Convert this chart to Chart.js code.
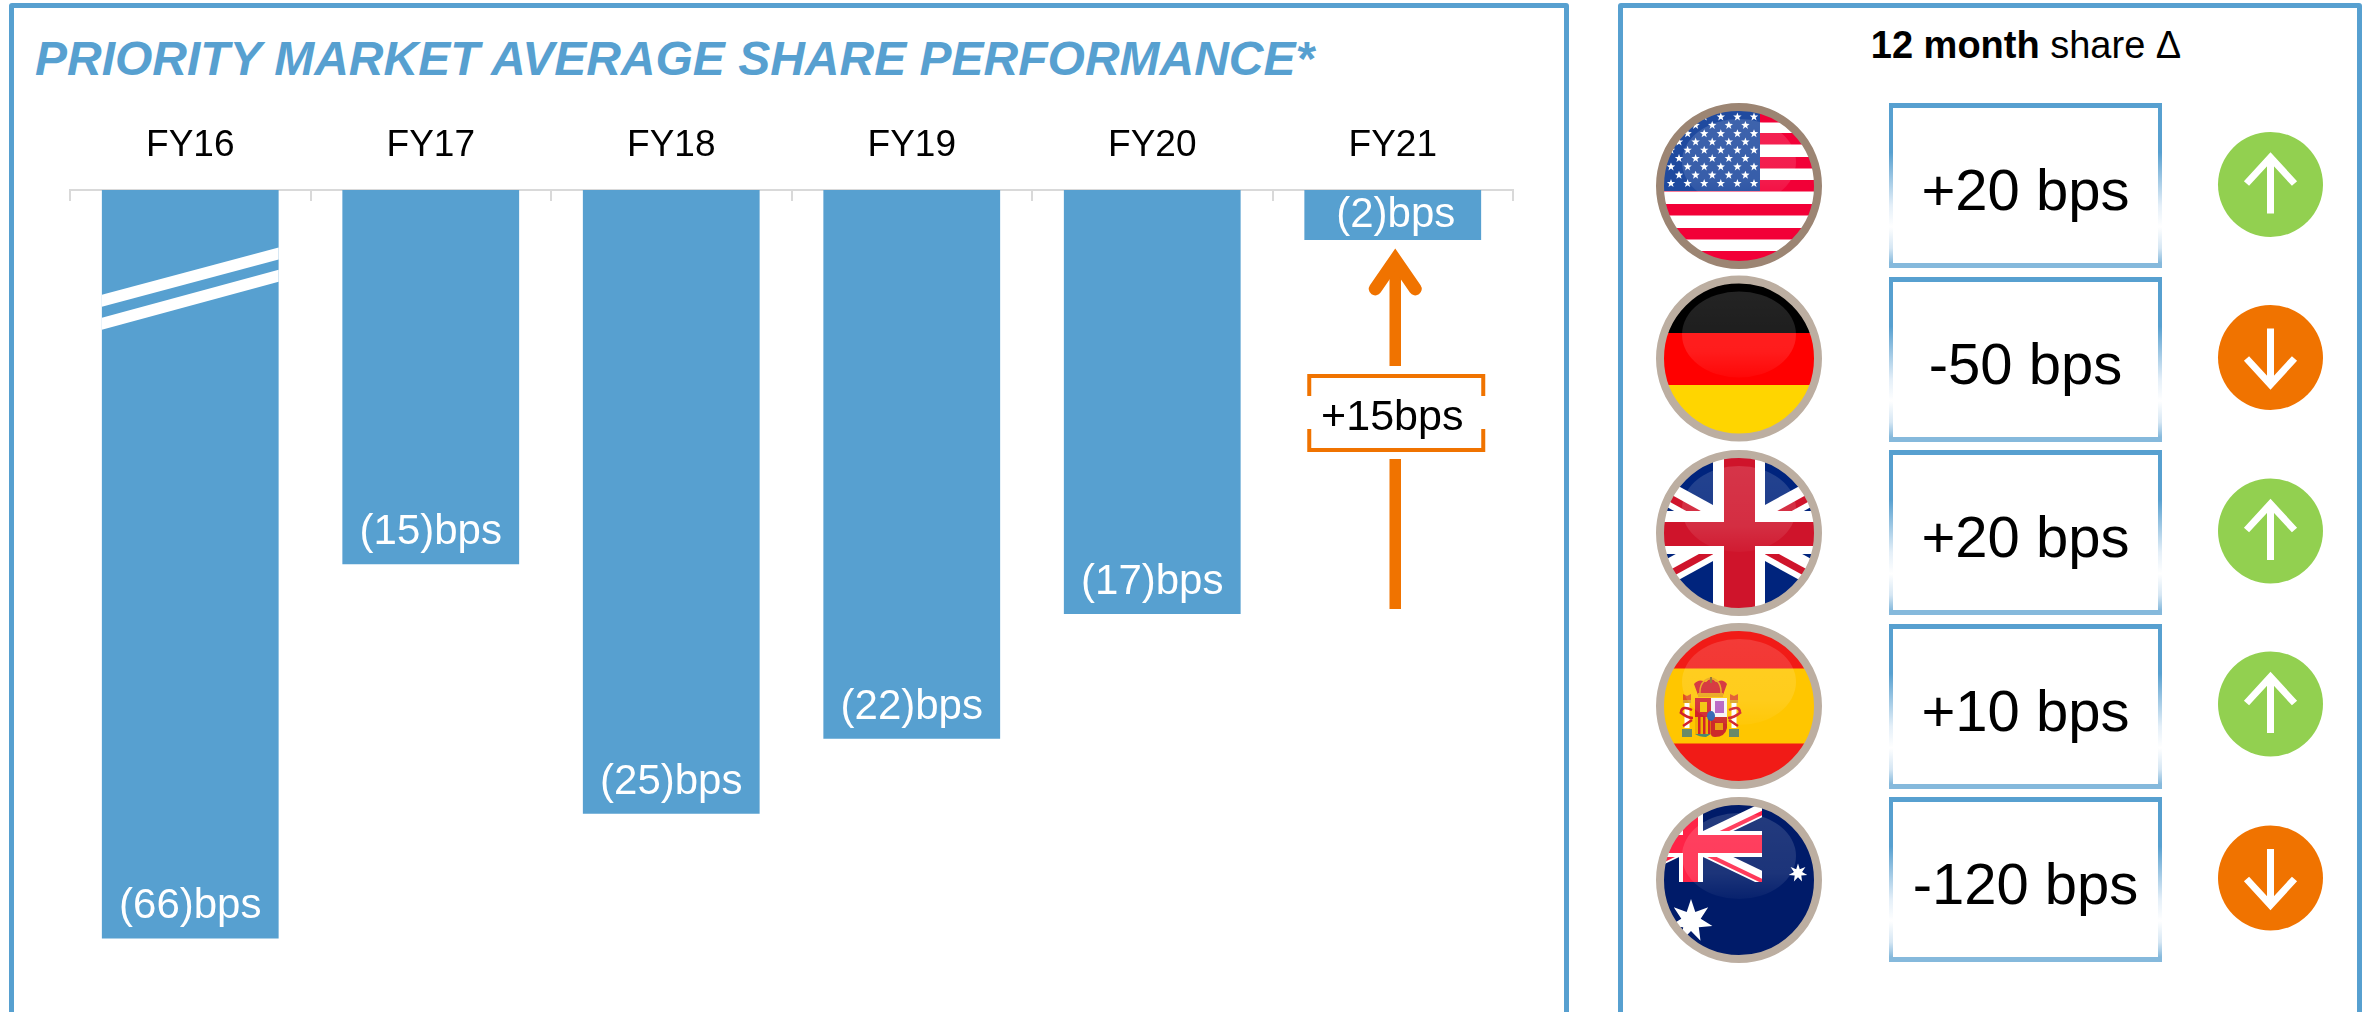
<!DOCTYPE html>
<html>
<head>
<meta charset="utf-8">
<title>Priority market average share performance</title>
<script src="https://cdn.jsdelivr.net/npm/chart.js@4/dist/chart.umd.js"></script>
<style>
  html, body { margin: 0; padding: 0; background: #fff; overflow: hidden; }
  body { width: 2363px; height: 1012px; position: relative; font-family: "Liberation Sans", Arial, sans-serif; color: #000; }
  .frame { position: absolute; top: 3px; height: 1100px; border: 5px solid #57a0d0; border-radius: 3px; box-sizing: border-box; }
  #left-frame { left: 9px; width: 1560px; }
  #right-frame { left: 1618px; width: 744px; }
  #title { position: absolute; left: 35px; top: 31px; font: italic bold 48px "Liberation Sans", Arial, sans-serif; color: #57a0d0; white-space: nowrap; }
  #chart { position: absolute; left: 0; top: 0; }
  #panel-head { position: absolute; left: 1700px; width: 652px; top: 24px; text-align: center; font-size: 38px; white-space: nowrap; }
  #icons { position: absolute; left: 0; top: 0; }
  .delta-box { position: absolute; left: 1889px; width: 273px; height: 165px; box-sizing: border-box; border-style: solid; border-width: 5px 4px 5px 4px;
    border-image: linear-gradient(#57a0d0 0%, #57a0d0 30%, #e4eff8 62%, #ffffff 75%, #d5e6f3 88%, #85b9dc 97%, #85b9dc 100%) 5 4;
    font-size: 58px; text-align: center; line-height: 163px; white-space: nowrap; }
</style>
</head>
<body>
<div class="frame" id="left-frame"></div>
<div class="frame" id="right-frame"></div>
<div id="title">PRIORITY MARKET AVERAGE SHARE PERFORMANCE*</div>
<canvas id="chart" width="1600" height="1012"></canvas>
<div id="panel-head"><b>12 month</b> share Δ</div>
<div id="panel-rows"></div>

<script>
// left chart
const fiscalYears = ['FY16', 'FY17', 'FY18', 'FY19', 'FY20', 'FY21'];
const shareBps = [-66, -15, -25, -22, -17, -2];
const brokenBarFloor = -30; // FY16 bar is cut, it stops here on the axis
const improvementBps = 15;

// right panel
const markets = ['usa', 'germany', 'uk', 'spain', 'australia'];
const marketDeltaBps = [20, -50, 20, 10, -120];

const BLUE = '#57a0d0';
const ORANGE = '#f07300';
const GREEN = '#92d050';

function formatShare(v) {
  return '(' + Math.abs(v) + ')bps';
}

// white labels near the foot of each bar, and the break marks on FY16
const barDecor = {
  id: 'barDecor',
  afterDatasetsDraw(chart) {
    const { ctx } = chart;
    const bars = chart.getDatasetMeta(0).data;
    const y = chart.scales.y;

    const first = bars[0];
    const half = first.width / 2;
    ctx.save();
    ctx.fillStyle = '#fff';
    // two slanted stripes, given in axis units
    [[-4.2, -2.3], [-5.12, -3.2]].forEach(([atLeft, atRight]) => {
      const l = y.getPixelForValue(atLeft);
      const r = y.getPixelForValue(atRight);
      ctx.beginPath();
      ctx.moveTo(first.x - half, l);
      ctx.lineTo(first.x + half, r);
      ctx.lineTo(first.x + half, r + 12);
      ctx.lineTo(first.x - half, l + 12);
      ctx.closePath();
      ctx.fill();
    });

    ctx.font = '42px "Liberation Sans", Arial, sans-serif';
    ctx.textAlign = 'center';
    ctx.textBaseline = 'middle';
    bars.forEach((bar, i) => {
      const h = Math.abs(bar.base - bar.y);
      const up = Math.min(31.5, h / 2);
      // FY21 sits a touch right of its bar centre in the picture
      ctx.fillText(formatShare(shareBps[i]), bar.x + (i === 5 ? 3 : 0), bar.y - up);
    });
    ctx.restore();
  },
};

// arrow from the FY20 level up to FY21, with the bracketed label
const improvementArrow = {
  id: 'improvementArrow',
  afterDatasetsDraw(chart) {
    const { ctx } = chart;
    const last = chart.getDatasetMeta(0).data[5];
    const y = chart.scales.y;
    const x = last.x + 2.5;
    const bottom = y.getPixelForValue(shareBps[5] - improvementBps) - 5;
    const tip = y.getPixelForValue(shareBps[5]) + 10;

    ctx.save();
    ctx.strokeStyle = ORANGE;
    ctx.fillStyle = ORANGE;
    ctx.lineWidth = 11.5;
    ctx.beginPath();
    ctx.moveTo(x, tip + 20);
    ctx.lineTo(x, 366);
    ctx.moveTo(x, 459);
    ctx.lineTo(x, bottom);
    ctx.stroke();

    // head
    ctx.lineWidth = 13;
    ctx.lineCap = 'round';
    ctx.lineJoin = 'miter';
    ctx.beginPath();
    ctx.moveTo(x - 20, tip + 39);
    ctx.lineTo(x, tip + 10);
    ctx.lineTo(x + 20, tip + 39);
    ctx.stroke();

    // bracket
    const bl = x - 86, br = x + 88, bt = 376, bb = 450;
    ctx.lineWidth = 4;
    ctx.lineCap = 'butt';
    ctx.beginPath();
    ctx.moveTo(bl, 396); ctx.lineTo(bl, bt); ctx.lineTo(br, bt); ctx.lineTo(br, 396);
    ctx.moveTo(bl, 429); ctx.lineTo(bl, bb); ctx.lineTo(br, bb); ctx.lineTo(br, 429);
    ctx.stroke();

    ctx.fillStyle = '#000';
    ctx.font = '43px "Liberation Sans", Arial, sans-serif';
    ctx.textAlign = 'center';
    ctx.textBaseline = 'middle';
    ctx.fillText('+' + improvementBps + 'bps', x - 3, 418);
    ctx.restore();
  },
};

new Chart(document.getElementById('chart'), {
  type: 'bar',
  data: {
    labels: fiscalYears,
    datasets: [{
      data: shareBps.map((v) => Math.max(v, brokenBarFloor)),
      backgroundColor: BLUE,
      barPercentage: 0.735,
      categoryPercentage: 1,
    }],
  },
  options: {
    responsive: false,
    animation: false,
    layout: { padding: { left: 70, right: 87, top: 0, bottom: 0 } },
    plugins: { legend: { display: false }, tooltip: { enabled: false } },
    scales: {
      x: {
        position: 'top',
        afterFit(scale) { scale.height = 190; },
        border: { color: '#d9d9d9', width: 2 },
        grid: { color: '#d9d9d9', lineWidth: 2, drawOnChartArea: false, tickLength: -11 },
        ticks: { color: '#000', padding: 33, maxRotation: 0, font: { size: 37, family: '"Liberation Sans", Arial, sans-serif' } },
      },
      y: { display: false, min: -32.95, max: 0 },
    },
  },
  plugins: [barDecor, improvementArrow],
});

// ---- right panel ----
const rowBoxTop = [103, 277, 450, 624, 797];
const flagCentre = [186, 358.5, 533, 706, 880];
const signCentre = [184.5, 357.5, 531, 704, 878];

function star(cx, cy, R, r, n) {
  let pts = [];
  for (let i = 0; i < n * 2; i++) {
    const a = -Math.PI / 2 + (i * Math.PI) / n;
    const d = i % 2 ? r : R;
    pts.push((cx + d * Math.cos(a)).toFixed(1) + ',' + (cy + d * Math.sin(a)).toFixed(1));
  }
  return `<polygon points="${pts.join(' ')}" fill="#fff"/>`;
}

function unionJack(cx, cy, halfW, halfH, white, red, whiteDiag, redDiag) {
  const dx = 130, dy = dx * (halfH / halfW);
  return `
    <line x1="${cx - dx}" y1="${cy - dy}" x2="${cx + dx}" y2="${cy + dy}" stroke="#fff" stroke-width="${whiteDiag}"/>
    <line x1="${cx - dx}" y1="${cy + dy}" x2="${cx + dx}" y2="${cy - dy}" stroke="#fff" stroke-width="${whiteDiag}"/>
    <line x1="${cx - dx}" y1="${cy - dy + 3}" x2="${cx + dx}" y2="${cy + dy + 3}" stroke="${red}" stroke-width="${redDiag}"/>
    <line x1="${cx - dx}" y1="${cy + dy + 3}" x2="${cx + dx}" y2="${cy - dy + 3}" stroke="${red}" stroke-width="${redDiag}"/>`;
}

const flagArt = {
  usa() {
    let s = '<rect x="-90" y="-90" width="180" height="180" fill="#fff"/>';
    [-75, -53, -29, -6, 18, 42, 65].forEach((t) => {
      s += `<rect x="-90" y="${t}" width="180" height="11.5" fill="#f20037"/>`;
    });
    s += '<rect x="-90" y="-90" width="111" height="95" fill="#1f4a9f"/>';
    for (let row = 0; row < 9; row++) {
      const odd = row % 2 === 1;
      for (let c = 0; c < 6; c++) {
        const x = (odd ? -60 : -68) + c * 16.6;
        if (odd && c === 5) continue;
        s += star(x, -69 + row * 8.3, 4.4, 1.8, 5);
      }
    }
    return s;
  },
  germany() {
    return `<rect x="-90" y="-90" width="180" height="65" fill="#000"/>
      <rect x="-90" y="-25.5" width="180" height="52" fill="#ff0000"/>
      <rect x="-90" y="26.5" width="180" height="65" fill="#ffd500"/>`;
  },
  uk() {
    return `<rect x="-90" y="-90" width="180" height="180" fill="#00247d"/>
      ${unionJack(0, 0, 100, 55, '#fff', '#cf142b', 24, 7)}
      <rect x="-26" y="-90" width="52" height="180" fill="#fff"/>
      <rect x="-90" y="-22" width="180" height="43" fill="#fff"/>
      <rect x="-15" y="-90" width="31" height="180" fill="#cf142b"/>
      <rect x="-90" y="-11" width="180" height="24" fill="#cf142b"/>`;
  },
  spain() {
    // small coat of arms
    let crest = `
      <rect x="-44" y="-8" width="16" height="19" fill="#d2222a"/>
      <rect x="-39" y="-4" width="7" height="10" fill="#f2c200"/>
      <rect x="-28" y="-8" width="16" height="19" fill="#f6f3f4"/>
      <rect x="-24" y="-5" width="9" height="12" fill="#b45cc0"/>
      <rect x="-44" y="11" width="16" height="17" fill="#f0b000"/>
      <rect x="-41" y="11" width="2.5" height="17" fill="#d2222a"/>
      <rect x="-36" y="11" width="2.5" height="17" fill="#d2222a"/>
      <rect x="-31" y="11" width="2.5" height="17" fill="#d2222a"/>
      <path d="M-28 11 H-12 V22 Q-14 31 -24 31 Q-28 31 -28 28 Z" fill="#cc2a2a"/>
      <rect x="-24" y="17" width="8" height="7" fill="#e8a010"/>
      <path d="M-44 28 Q-40 31 -33 31 L-28 28 Z" fill="#4a8a70"/>
      <ellipse cx="-28" cy="10" rx="4" ry="5" fill="#2d62b0"/>
      <path d="M-41 -11 L-45 -22 Q-40 -28 -33 -24 Q-28 -30 -23 -24 Q-16 -28 -12 -22 L-16 -11 Z" fill="#d2222a"/>
      <path d="M-28 -28 Q-40 -26 -39 -11 M-28 -28 Q-17 -26 -18 -11" fill="none" stroke="#e8a010" stroke-width="1.5"/>
      <rect x="-41" y="-13" width="25" height="4" fill="#e8a010"/>
      <rect x="-29" y="-29" width="2" height="6" fill="#8a6a20"/>`;
    [-52, -5].forEach((x, k) => {
      const flip = k === 0 ? -1 : 1;
      crest += `<rect x="${x - 2.5}" y="-3" width="5" height="25" fill="#fff"/>
        <path d="M${x - 4} -6 L${x - 4} -12 L${x} -10 L${x + 4} -12 L${x + 4} -6 Z" fill="#e05020"/>
        <rect x="${x - 4}" y="-6" width="8" height="3" fill="#d8a020"/>
        <rect x="${x - 5}" y="23" width="10" height="8" fill="#6a8a68"/>
        <path d="M${x - flip * 5} 4 Q${x + flip * 5} -1 ${x + flip * 6} 6" fill="none" stroke="#d2222a" stroke-width="2.5"/>
        <path d="M${x - flip * 6} 12 Q${x} 12 ${x + flip * 7} 6 M${x - flip * 5} 14 L${x + flip * 4} 20" fill="none" stroke="#d2222a" stroke-width="2.5"/>`;
    });
    return `<rect x="-90" y="-90" width="180" height="180" fill="#f11b17"/>
      <rect x="-90" y="-37.5" width="180" height="75" fill="#ffc600"/>${crest}`;
  },
  australia() {
    return `<rect x="-90" y="-90" width="180" height="180" fill="#001b69"/>
      <g clip-path="url(#canton-clip)">
        <rect x="-90" y="-90" width="113" height="92" fill="#001b69"/>
        ${unionJack(-48, -36, 75, 36, '#fff', '#ff2347', 13, 4)}
        <rect x="-60" y="-90" width="24" height="92" fill="#fff"/>
        <rect x="-90" y="-49" width="113" height="26" fill="#fff"/>
        <rect x="-56" y="-90" width="15" height="92" fill="#ff2347"/>
        <rect x="-90" y="-45" width="113" height="18" fill="#ff2347"/>
      </g>
      ${star(-48, 41, 22, 10, 7)}
      ${star(59, -7, 9.5, 4.2, 7)}`;
  },
};

function flagIcon(name, cy, i) {
  const rim = name === 'usa' ? '#9c8573' : '#bcaea1';
  return `<g transform="translate(1739 ${cy})">
    <g clip-path="url(#flag-clip)">${flagArt[name]()}
      <ellipse cx="0" cy="-24" rx="57" ry="43" fill="url(#gloss)"/>
    </g>
    <circle r="79" fill="none" stroke="${rim}" stroke-width="8"/>
  </g>`;
}

function signIcon(delta, cy) {
  const up = delta > 0;
  const dir = up ? 1 : -1;
  return `<g transform="translate(2270.5 ${cy}) scale(1 ${dir})">
    <circle r="52.5" fill="${up ? GREEN : ORANGE}"/>
    <path d="M0 29 V-26 M-24 -1 L0 -27 L24 -1" fill="none" stroke="#fff" stroke-width="7"/>
  </g>`;
}

let icons = `<svg id="icons" width="2363" height="1012" xmlns="http://www.w3.org/2000/svg">
  <defs>
    <clipPath id="flag-clip"><circle r="76"/></clipPath>
    <clipPath id="canton-clip"><rect x="-90" y="-90" width="113" height="92"/></clipPath>
    <linearGradient id="gloss" x1="0" y1="0" x2="0" y2="1">
      <stop offset="0" stop-color="#fff" stop-opacity="0.14"/>
      <stop offset="0.7" stop-color="#fff" stop-opacity="0.11"/>
      <stop offset="1" stop-color="#fff" stop-opacity="0.03"/>
    </linearGradient>
  </defs>`;
let boxes = '';
markets.forEach((m, i) => {
  icons += flagIcon(m, flagCentre[i], i) + signIcon(marketDeltaBps[i], signCentre[i]);
  const d = marketDeltaBps[i];
  boxes += `<div class="delta-box" style="top:${rowBoxTop[i]}px">${d > 0 ? '+' : ''}${d} bps</div>`;
});
icons += '</svg>';
document.getElementById('panel-rows').innerHTML = icons + boxes;
</script>
</body>
</html>
